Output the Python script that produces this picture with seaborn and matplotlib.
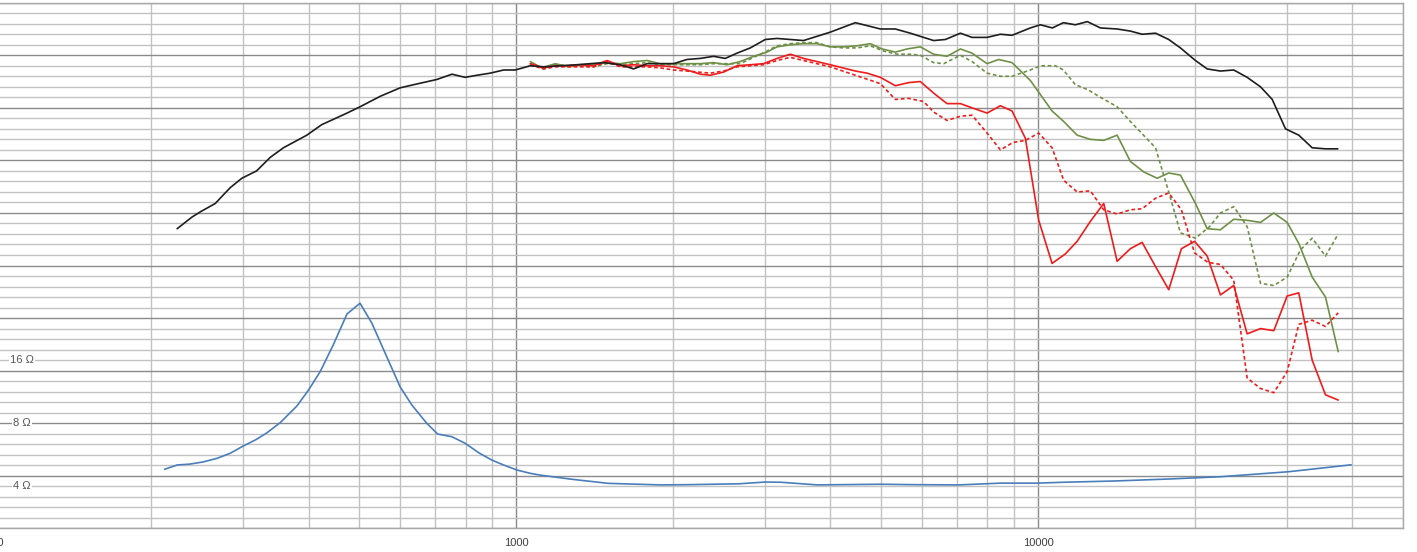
import matplotlib
matplotlib.use("Agg")
import matplotlib.pyplot as plt
from matplotlib.ticker import LogLocator, MultipleLocator, NullFormatter, FixedLocator, FixedFormatter
import numpy as np
import pandas as pd
import seaborn as sns

sns.set_theme(style="white")
plt.rcParams["font.family"] = ["Liberation Sans", "DejaVu Sans"]

# on-axis response (black), Hz / dB
black_f = [224, 239, 248, 265, 283, 298, 318, 338, 358, 397, 424, 474, 502, 549, 599, 636,
           705, 753, 798, 841, 892, 946, 996, 1064, 1128, 1308, 1470, 1583, 1679, 1781, 2002,
           2125, 2253, 2389, 2516, 2649, 2810, 3002, 3161, 3352, 3554, 3999, 4467, 4988, 5329,
           5692, 6310, 6645, 7101, 7475, 7988, 8473, 8918, 9669, 10106, 10656, 11186, 11793,
           12435, 13171, 14179, 15034, 15834, 16799, 17806, 18750, 20035, 21100, 22370, 23723,
           25168, 26696, 28111, 29812, 31608, 33533, 35563, 37550]
black_db = [78.5, 79.6, 80.1, 80.9, 82.4, 83.3, 84.0, 85.3, 86.2, 87.4, 88.4, 89.5, 90.1, 91.1,
            91.9, 92.2, 92.7, 93.2, 92.9, 93.1, 93.3, 93.6, 93.6, 94.0, 93.9, 94.1, 94.3, 94.1,
            93.7, 94.2, 94.2, 94.6, 94.7, 94.9, 94.7, 95.2, 95.7, 96.5, 96.6, 96.5, 96.4, 97.2,
            98.1, 97.5, 97.5, 97.1, 96.4, 96.5, 97.1, 96.7, 96.7, 97.0, 96.9, 97.6, 97.9, 97.6,
            98.1, 97.9, 98.2, 97.6, 97.5, 97.3, 97.0, 97.1, 96.5, 95.7, 94.5, 93.7, 93.5, 93.6,
            92.9, 92.0, 90.8, 88.0, 87.4, 86.2, 86.1, 86.1]

# green solid
green_f = [1064, 1120, 1188, 1260, 1327, 1407, 1493, 1583, 1679, 1781, 1888, 2002, 2125, 2253,
           2389, 2535, 2688, 2851, 3024, 3161, 3352, 3554, 3771, 3999, 4241, 4500, 4772, 5025,
           5329, 5610, 5950, 6310, 6694, 7101, 7475, 7988, 8410, 8918, 9669, 10641, 11202,
           11885, 12601, 13366, 14179, 15034, 15948, 16923, 17806, 18750, 20035, 21100, 22370,
           23723, 25168, 26696, 28310, 30030, 31608, 33533, 35563, 37620]
green_db = [94.4, 93.8, 94.2, 93.9, 94.1, 94.1, 94.3, 94.2, 94.4, 94.5, 94.2, 94.2, 94.2, 94.2,
            94.3, 94.1, 94.4, 94.9, 95.3, 95.8, 96.0, 96.1, 96.1, 95.8, 95.8, 95.9, 96.1, 95.6,
            95.3, 95.6, 95.8, 95.1, 94.9, 95.6, 95.2, 94.2, 94.6, 94.3, 92.6, 89.7, 88.7, 87.4,
            87.0, 86.9, 87.4, 84.9, 83.9, 83.3, 83.8, 83.6, 80.9, 78.5, 78.4, 79.4, 79.3, 79.1,
            80.0, 79.1, 77.1, 73.9, 72.0, 66.8]

# green dotted
greend_f = [1064, 1128, 1188, 1260, 1327, 1407, 1493, 1583, 1679, 1781, 1888, 2002, 2253, 2389,
            2688, 2851, 3024, 3161, 3352, 3554, 3771, 3999, 4241, 4500, 4772, 5061, 5370, 5692,
            5950, 6310, 6596, 7101, 7475, 7988, 8473, 8918, 9669, 10106, 10799, 11186, 11793,
            12492, 13171, 14179, 15034, 16799, 17806, 18750, 20035, 21326, 22370, 23723, 25168,
            26696, 28310, 30030, 31850, 33533, 35563, 37620]
greend_db = [94.2, 93.7, 94.1, 94.0, 94.0, 93.9, 94.2, 94.1, 94.2, 94.3, 94.1, 94.1, 94.1, 94.2,
             94.2, 94.8, 95.4, 95.9, 96.1, 96.2, 96.2, 95.8, 95.7, 95.7, 95.9, 95.4, 95.1, 95.1,
             95.0, 94.3, 94.2, 95.0, 94.4, 93.3, 93.0, 93.0, 93.6, 94.0, 94.0, 93.6, 92.2, 91.7,
             91.0, 90.1, 88.7, 86.2, 82.0, 78.1, 77.6, 78.7, 80.0, 80.6, 78.7, 73.3, 73.1, 73.9,
             76.5, 77.6, 75.9, 78.0]

# red solid
red_f = [1064, 1128, 1188, 1260, 1327, 1407, 1493, 1583, 1679, 1781, 1888, 2002, 2125, 2253,
         2355, 2497, 2649, 2810, 2979, 3161, 3352, 3554, 3999, 4467, 4703, 4988, 5329, 5650,
         5950, 6310, 6694, 7101, 7475, 7988, 8473, 8918, 9459, 10032, 10641, 11283, 11885,
         12601, 13366, 14179, 15034, 15834, 16799, 17806, 18832, 19950, 21100, 22370, 23723,
         25168, 26696, 28310, 30030, 31608, 33533, 35563, 37620]
red_db = [94.2, 93.8, 94.0, 94.0, 94.1, 94.0, 94.5, 94.0, 94.1, 94.0, 94.0, 93.9, 93.6, 93.2,
          93.1, 93.4, 94.0, 94.1, 94.2, 94.7, 95.1, 94.7, 94.1, 93.5, 93.3, 92.9, 92.1, 92.4,
          92.5, 91.4, 90.4, 90.4, 90.0, 89.5, 90.2, 89.7, 87.1, 79.3, 75.2, 76.1, 77.3, 79.2,
          80.9, 75.4, 76.6, 77.2, 74.9, 72.7, 76.6, 77.3, 75.9, 72.2, 73.1, 68.5, 69.0, 68.8,
          72.1, 72.4, 66.0, 62.7, 62.2]

# red dotted
redd_f = [1064, 1128, 1188, 1260, 1327, 1407, 1493, 1583, 1679, 1781, 1888, 2002, 2125, 2355,
          2497, 2649, 2979, 3161, 3352, 3554, 3999, 4467, 4988, 5329, 5650, 6038, 6310, 6694,
          7101, 7475, 7988, 8473, 8950, 9459, 10032, 10641, 11202, 11885, 12601, 13366, 14179,
          15034, 15834, 16799, 17806, 18832, 19950, 21172, 22370, 23723, 25168, 26696, 28310,
          30030, 31608, 33533, 35563, 37620]
redd_db = [94.1, 93.7, 93.9, 93.9, 93.9, 93.9, 94.4, 93.9, 93.9, 93.9, 93.8, 93.6, 93.5, 93.3,
           93.5, 93.9, 94.1, 94.5, 94.8, 94.5, 93.9, 93.1, 92.3, 90.8, 90.9, 90.6, 89.6, 88.8,
           89.2, 89.3, 87.6, 86.0, 86.7, 86.9, 87.6, 86.2, 83.1, 82.0, 82.1, 80.3, 79.9, 80.3,
           80.4, 81.4, 81.9, 80.3, 76.2, 75.3, 75.1, 73.6, 64.3, 63.3, 62.9, 64.9, 69.4, 69.8,
           69.2, 70.5]

# impedance (blue), Hz / ohm
imp_f = [212, 224, 237, 251, 267, 283, 300, 318, 333, 353, 380, 400, 421, 446, 474, 502, 529,
         565, 599, 631, 674, 707, 753, 798, 847, 898, 946, 1003, 1064, 1112, 1277, 1501, 1891,
         2122, 2673, 3001, 3216, 3780, 4988, 5861, 7052, 8483, 9970, 11186, 14093, 17750,
         22360, 30190, 39830]
imp_ohm = [4.82, 5.05, 5.10, 5.22, 5.43, 5.74, 6.22, 6.69, 7.19, 8.03, 9.64, 11.48, 14.03, 18.8,
           26.4, 29.7, 23.85, 16.5, 11.9, 9.74, 7.97, 7.09, 6.88, 6.41, 5.78, 5.33, 5.05, 4.78,
           4.61, 4.52, 4.32, 4.13, 4.06, 4.07, 4.11, 4.19, 4.18, 4.06, 4.09, 4.07, 4.06, 4.14,
           4.14, 4.18, 4.24, 4.33, 4.44, 4.69, 5.06]

imp_ticks = [4, 8, 16]
imp_tick_labels = ["4 Ω", "8 Ω", "16 Ω"]

BLACK = "#1e1e1e"
GREEN = "#6f9147"
RED = "#f01c1c"
BLUE = "#4a7ebb"
DOT = (0, (2.2, 1.6))

fig = plt.figure(figsize=(14.17, 5.52), dpi=100)
ax = fig.add_axes([-0.00395, 0.0429, 0.99386, 0.9522])

sns.lineplot(x=green_f, y=green_db, ax=ax, color=GREEN, lw=1.2)
sns.lineplot(x=greend_f, y=greend_db, ax=ax, color=GREEN, lw=1.2, linestyle=DOT)
sns.lineplot(x=red_f, y=red_db, ax=ax, color=RED, lw=1.2)
sns.lineplot(x=redd_f, y=redd_db, ax=ax, color=RED, lw=1.2, linestyle=DOT)
sns.lineplot(x=black_f, y=black_db, ax=ax, color=BLACK, lw=1.2)

ax.set_xscale("log")
ax.set_xlim(100, 50000)
ax.set_ylim(50, 100)
ax.xaxis.set_major_locator(FixedLocator([100, 1000, 10000]))
ax.xaxis.set_major_formatter(FixedFormatter(["100", "1000", "10000"]))
ax.xaxis.set_minor_locator(LogLocator(base=10, subs=range(2, 10), numticks=20))
ax.xaxis.set_minor_formatter(NullFormatter())
ax.yaxis.set_major_locator(MultipleLocator(5))
ax.yaxis.set_minor_locator(MultipleLocator(1))
ax.tick_params(axis="x", which="both", length=0, pad=7, labelsize=8, labelcolor="#404040")
ax.tick_params(axis="y", which="both", length=0, labelleft=False)
ax.grid(which="major", color="#8a8a8a", lw=1.0)
ax.grid(which="minor", color="#c2c2c2", lw=1.0)
ax.set_axisbelow(True)
ax.set_xlabel("")
ax.set_ylabel("")
for s in ax.spines.values():
    s.set_color("#a8a8a8")
    s.set_linewidth(1.0)

ax2 = ax.twinx()
sns.lineplot(x=imp_f, y=imp_ohm, ax=ax2, color=BLUE, lw=1.2)
ax2.set_yscale("log")
ax2.set_ylim(2.524, 798.1)
ax2.set_yticks([])
ax2.set_ylabel("")
ax2.tick_params(axis="y", which="both", length=0, labelright=False)
for s in ax2.spines.values():
    s.set_visible(False)
for z, lab in zip(imp_ticks, imp_tick_labels):
    ax2.text(113, z, lab, ha="center", va="center", fontsize=8, color="#555555",
             bbox=dict(facecolor="white", edgecolor="none", pad=1.0))

fig.savefig("out.png", dpi=100)
plt.close(fig)
